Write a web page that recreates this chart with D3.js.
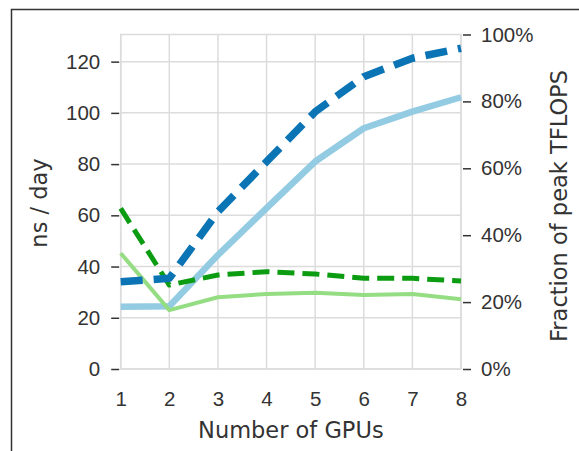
<!DOCTYPE html>
<html>
<head>
<meta charset="utf-8">
<style>
  body { margin: 0; background: #fff; }
  svg { display: block; font-family: "DejaVu Sans", sans-serif; }
  .axis path { display: none; }
  .axis line { stroke: #333; stroke-width: 1.5; }
  .axis text { fill: #333; font-size: 20.5px; }
</style>
</head>
<body>
<script src="https://cdnjs.cloudflare.com/ajax/libs/d3/7.8.5/d3.min.js"></script>
<script>

// number of GPUs on the x axis
var gpus = [1, 2, 3, 4, 5, 6, 7, 8];

// solid lines, ns/day (left axis)
var nsDayBlue  = [24.3, 24.5, 44.5, 62.8, 81.0, 94.0, 100.5, 106.1];
var nsDayGreen = [45.2, 23.0, 28.0, 29.3, 29.8, 28.9, 29.3, 27.2];

// dashed lines, fraction of peak TFLOPS (right axis)
var peakBlue  = [0.261, 0.271, 0.470, 0.620, 0.769, 0.874, 0.929, 0.959];
var peakGreen = [0.480, 0.251, 0.281, 0.291, 0.284, 0.271, 0.271, 0.263];

var leftTicks  = [0, 20, 40, 60, 80, 100, 120];
var rightTicks = [0, 0.2, 0.4, 0.6, 0.8, 1.0];

var width = 579,
    height = 451;

var plot = { left: 120.7, right: 461, top: 34.5, bottom: 369 };

var svg = d3.select("body")
    .append("svg")
    .attr("width", width)
    .attr("height", height);

// frame around the figure (top and left edges show)
svg.append("path")
    .attr("d", "M11.5," + height + "V9.5H" + width)
    .attr("fill", "none")
    .attr("stroke", "#333")
    .attr("stroke-width", 1.5);

var x = d3.scaleLinear().domain([1, 8]).range([plot.left, plot.right]);
var yLeft = d3.scaleLinear().domain([0, 130.6]).range([plot.bottom, plot.top]);
var yRight = d3.scaleLinear().domain([0, 1]).range([plot.bottom, plot.top]);

// grid
var grid = svg.append("g")
    .attr("stroke", "#dcdcdc")
    .attr("stroke-width", 1.5);

grid.selectAll(".vgrid")
    .data(gpus)
  .enter().append("line")
    .attr("x1", function(d) { return x(d); })
    .attr("x2", function(d) { return x(d); })
    .attr("y1", plot.top)
    .attr("y2", plot.bottom);

grid.selectAll(".hgrid")
    .data(leftTicks)
  .enter().append("line")
    .attr("x1", plot.left)
    .attr("x2", plot.right)
    .attr("y1", function(d) { return yLeft(d); })
    .attr("y2", function(d) { return yLeft(d); });

// spines
svg.append("rect")
    .attr("x", plot.left)
    .attr("y", plot.top)
    .attr("width", plot.right - plot.left)
    .attr("height", plot.bottom - plot.top)
    .attr("fill", "none")
    .attr("stroke", "#dcdcdc")
    .attr("stroke-width", 1.5);

// axes
svg.append("g")
    .attr("class", "axis")
    .attr("transform", "translate(" + (plot.left - 1.5) + ",0)")
    .call(d3.axisLeft(yLeft).tickValues(leftTicks).tickSize(8).tickPadding(11));

svg.append("g")
    .attr("class", "axis")
    .attr("transform", "translate(" + (plot.right + 2) + ",0)")
    .call(d3.axisRight(yRight).tickValues(rightTicks).tickSize(8).tickPadding(10)
        .tickFormat(d3.format(".0%")));

svg.append("g")
    .attr("class", "axis")
    .attr("transform", "translate(0," + plot.bottom + ")")
    .call(d3.axisBottom(x).tickValues(gpus).tickSize(0).tickPadding(22)
        .tickFormat(d3.format("d")));

// lines
var lineLeft = d3.line()
    .x(function(d, i) { return x(gpus[i]); })
    .y(function(d) { return yLeft(d); });

var lineRight = d3.line()
    .x(function(d, i) { return x(gpus[i]); })
    .y(function(d) { return yRight(d); });

var series = [
  { values: nsDayBlue,  line: lineLeft,  color: "#92cbe2", width: 6.5, dash: null },
  { values: nsDayGreen, line: lineLeft,  color: "#94dd83", width: 4,   dash: null },
  { values: peakGreen,  line: lineRight, color: "#0c9c12", width: 5,   dash: "17,8" },
  { values: peakBlue,   line: lineRight, color: "#0a74b4", width: 7.5, dash: "22,11" }
];

svg.selectAll(".series")
    .data(series)
  .enter().append("path")
    .attr("class", "series")
    .attr("d", function(d) { return d.line(d.values); })
    .attr("fill", "none")
    .attr("stroke", function(d) { return d.color; })
    .attr("stroke-width", function(d) { return d.width; })
    .attr("stroke-dasharray", function(d) { return d.dash; })
    .attr("stroke-linejoin", "round");

// axis titles
svg.append("text")
    .attr("x", (plot.left + plot.right) / 2)
    .attr("y", 438)
    .attr("text-anchor", "middle")
    .attr("fill", "#333")
    .style("font-size", "22.5px")
    .text("Number of GPUs");

svg.append("text")
    .attr("transform", "translate(47,203) rotate(-90)")
    .attr("text-anchor", "middle")
    .attr("fill", "#333")
    .style("font-size", "22.5px")
    .text("ns / day");

svg.append("text")
    .attr("transform", "translate(567,206) rotate(-90)")
    .attr("text-anchor", "middle")
    .attr("fill", "#333")
    .style("font-size", "22.5px")
    .text("Fraction of peak TFLOPS");

</script>
</body>
</html>
